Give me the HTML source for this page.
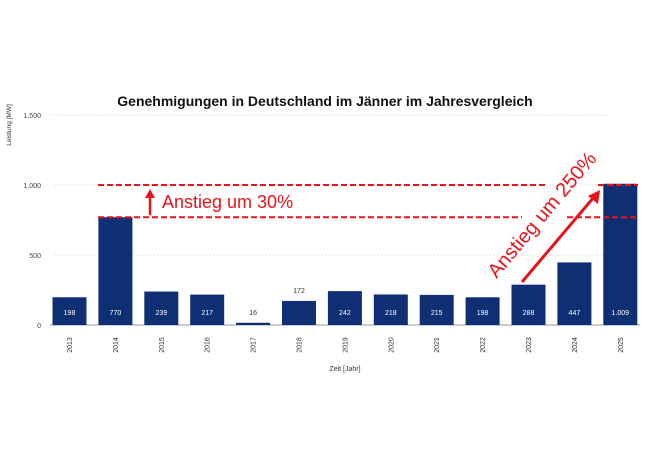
<!DOCTYPE html>
<html><head><meta charset="utf-8"><style>
body{margin:0;background:#fff;}
svg{display:block;font-family:"Liberation Sans",sans-serif;}
</style></head><body>
<svg id="c" width="650" height="450">
<text x="325" y="106" text-anchor="middle" font-size="14" font-weight="bold" fill="#111">Genehmigungen in Deutschland im Jänner im Jahresvergleich</text>
<text transform="translate(11,125) rotate(-90)" text-anchor="middle" font-size="6.5" fill="#333">Leistung [MW]</text>
<text x="345" y="371" text-anchor="middle" font-size="7" fill="#333">Zeit [Jahr]</text>
<g id="grid"></g><g id="bars"></g>
<g id="ann"></g>
</svg>
<script>
const categories=["2013","2014","2015","2016","2017","2018","2019","2020","2021","2022","2023","2024","2025"];
const values=[198,770,239,217,16,172,242,218,215,198,288,447,1009];
const labels=["198","770","239","217","16","172","242","218","215","198","288","447","1.009"];
const yTicks=[0,500,1000,1500];
const yTickLabels=["0","500","1.000","1.500"];
const ns="http://www.w3.org/2000/svg";
const y=v=>325-v*0.14;
const xc=i=>69.5+i*45.9;
function mk(t,a,p){const e=document.createElementNS(ns,t);for(const k in a)e.setAttribute(k,a[k]);(p||document.getElementById('c')).appendChild(e);return e;}
const g=document.getElementById('grid'),b=document.getElementById('bars'),an=document.getElementById('ann');
yTicks.forEach((v,i)=>{
 if(v>0){const l=mk('line',{x1:52,x2:607,y1:y(v),y2:y(v),stroke:'#ddd','stroke-dasharray':'1.5 2'},g);
 
 }
 const t=mk('text',{x:41,y:y(v)+3,'text-anchor':'end','font-size':7,fill:'#444'},g);t.textContent=yTickLabels[i];
 
 
});
const ax=mk('line',{x1:50,x2:640,y1:y(0),y2:y(0),stroke:'#999','stroke-width':1},g);


categories.forEach((c,i)=>{
 const r=mk('rect',{x:xc(i)-17,y:y(values[i]),width:34,height:values[i]*0.14,fill:'#0f2f74'},b);
 
 
 const inside=values[i]*0.14>26;
 const t=mk('text',{x:xc(i),y:inside?315:y(values[i])-8,'text-anchor':'middle','font-size':7,fill:inside?'#fff':'#333'},b);
 t.textContent=labels[i];
 
 
 const yl=mk('text',{transform:`translate(${xc(i)+2.5},345) rotate(-90)`,'text-anchor':'middle','font-size':7,fill:'#333'},b);
 yl.textContent=c;
 
 
});
const red='#e8141b';
const y1000=y(1000),y770=y(770);
[[98,548,y1000],[598,638,y1000],[98,522,y770],[567,638,y770]].forEach(s=>{
 const l=mk('line',{x1:s[0],x2:s[1],y1:s[2],y2:s[2],stroke:red,'stroke-width':2,'stroke-dasharray':'6 3'},an);
 
 
});
mk('line',{x1:150,x2:150,y1:y770-2,y2:y1000+12,stroke:red,'stroke-width':2.5},an);
mk('polygon',{points:`145,${y1000+13} 155,${y1000+13} 150,${y1000+4}`,fill:red},an);
const t1=mk('text',{x:162,y:208,'font-size':18,fill:red},an);t1.textContent='Anstieg um 30%';


mk('line',{x1:522,y1:282,x2:594,y2:197,stroke:red,'stroke-width':3},an);
mk('polygon',{points:'600,190 598,204 588,196',fill:red},an);
const t2=mk('text',{transform:'translate(547,219) rotate(-50)','text-anchor':'middle','font-size':20,fill:red},an);t2.textContent='Anstieg um 250%';


</script>
</body></html>
